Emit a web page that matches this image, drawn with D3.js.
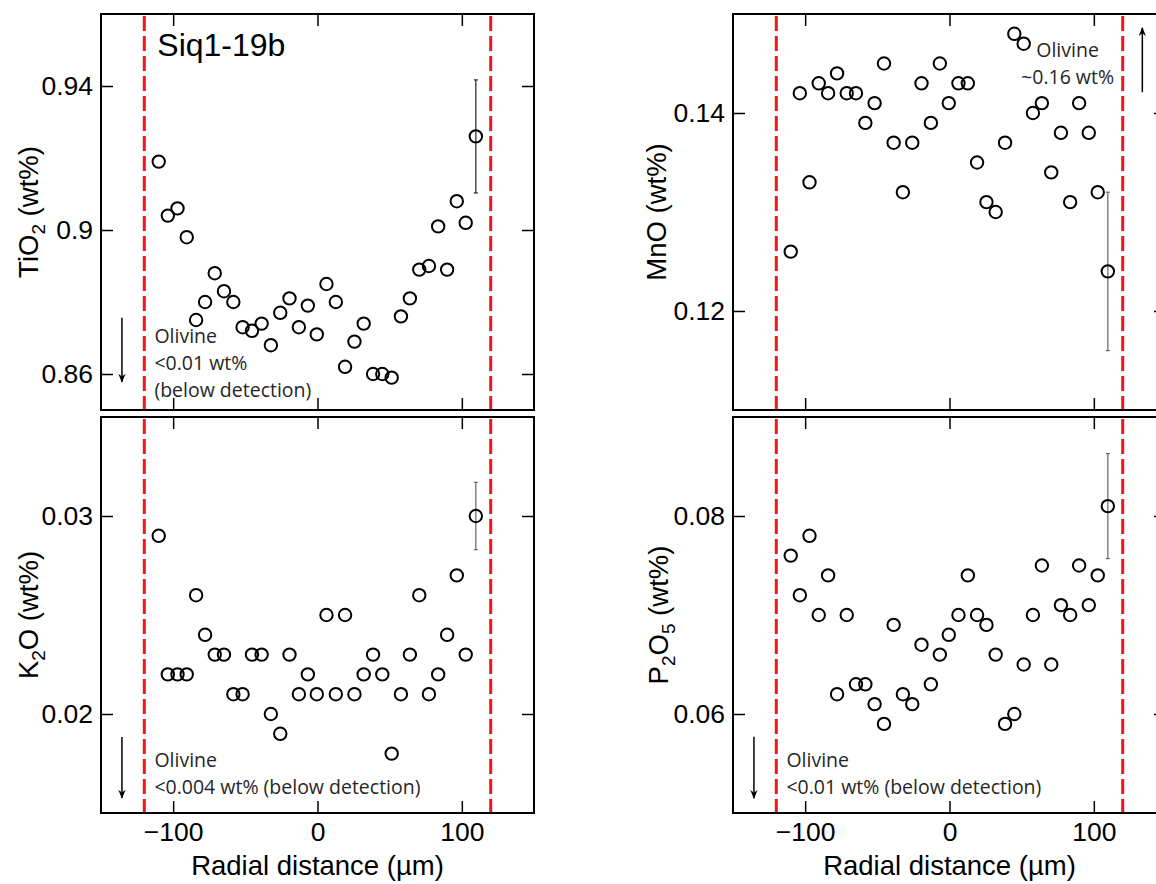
<!DOCTYPE html>
<html>
<head>
<meta charset="utf-8">
<script src="https://cdn.jsdelivr.net/npm/d3@7"></script>
<style>
  body { margin: 0; background: #fff; }
  text { font-family: "Liberation Sans", Arial, sans-serif; }
</style>
</head>
<body>
<svg id="chart"></svg>
<script>
// radial position of each analysis (µm), same spots for all four oxides
const radialDistance = [-110, -103.7, -97, -90.6, -84.1, -77.9, -71.2, -64.8, -58.3, -51.9,
  -45.4, -38.7, -32.3, -25.8, -19.4, -12.9, -6.7, -0.5, 6.2, 12.7,
  19.1, 25.6, 32, 38.5, 44.9, 51.4, 57.8, 64, 70.5, 77.2,
  83.6, 89.8, 96.5, 102.7, 109.7];

const tio2 = [0.919, 0.904, 0.906, 0.898, 0.875, 0.880, 0.888, 0.883, 0.880, 0.873,
  0.872, 0.874, 0.868, 0.877, 0.881, 0.873, 0.879, 0.871, 0.885, 0.880,
  0.862, 0.869, 0.874, 0.860, 0.860, 0.859, 0.876, 0.881, 0.889, 0.890,
  0.901, 0.889, 0.908, 0.902, 0.926];

const mno = [0.126, 0.142, 0.133, 0.143, 0.142, 0.144, 0.142, 0.142, 0.139, 0.141,
  0.145, 0.137, 0.132, 0.137, 0.143, 0.139, 0.145, 0.141, 0.143, 0.143,
  0.135, 0.131, 0.130, 0.137, 0.148, 0.147, 0.140, 0.141, 0.134, 0.138,
  0.131, 0.141, 0.138, 0.132, 0.124];

const k2o = [0.029, 0.022, 0.022, 0.022, 0.026, 0.024, 0.023, 0.023, 0.021, 0.021,
  0.023, 0.023, 0.020, 0.019, 0.023, 0.021, 0.022, 0.021, 0.025, 0.021,
  0.025, 0.021, 0.022, 0.023, 0.022, 0.018, 0.021, 0.023, 0.026, 0.021,
  0.022, 0.024, 0.027, 0.023, 0.030];

const p2o5 = [0.076, 0.072, 0.078, 0.070, 0.074, 0.062, 0.070, 0.063, 0.063, 0.061,
  0.059, 0.069, 0.062, 0.061, 0.067, 0.063, 0.066, 0.068, 0.070, 0.074,
  0.070, 0.069, 0.066, 0.059, 0.060, 0.065, 0.070, 0.075, 0.065, 0.071,
  0.070, 0.075, 0.071, 0.074, 0.081];

// one representative 2-sigma error bar, on the outermost point
const errTio2 = 0.0157;
const errMno = 0.008;
const errK2o = 0.0017;
const errP2o5 = 0.0053;

const olivineEdges = [-120, 120];
const xTicks = [-100, 0, 100];
const tio2Ticks = [0.86, 0.9, 0.94];
const mnoTicks = [0.12, 0.14];
const k2oTicks = [0.02, 0.03];
const p2o5Ticks = [0.06, 0.08];

const width = 1156;
const height = 884;
const panelW = 433;
const panelH = 396;
const colX = [101, 733];
const rowY = [14, 417];

const svg = d3.select('#chart')
  .attr('width', width)
  .attr('height', height);

const panels = [
  { col: 0, row: 0, values: tio2, err: errTio2, domain: [0.85, 0.96], ticks: tio2Ticks,
    label: [['TiO'], ['2', 'sub'], [' (wt%)']], labelOff: 63 },
  { col: 1, row: 0, values: mno, err: errMno, domain: [0.11, 0.15], ticks: mnoTicks,
    label: [['MnO (wt%)']], labelOff: 67 },
  { col: 0, row: 1, values: k2o, err: errK2o, domain: [0.015, 0.035], ticks: k2oTicks,
    label: [['K'], ['2', 'sub'], ['O (wt%)']], labelOff: 63 },
  { col: 1, row: 1, values: p2o5, err: errP2o5, domain: [0.05, 0.09], ticks: p2o5Ticks,
    label: [['P'], ['2', 'sub'], ['O'], ['5', 'sub'], [' (wt%)']], labelOff: 65 },
];

// olivine composition notes: [x, y] in data units of each panel
const notes = [
  { panel: 0, arrow: [-135.5, 0.8756, 0.8578], at: [-113, 0.8686], anchor: 'start',
    lines: ['Olivine', '<0.01 wt%', '(below detection)'] },
  { panel: 1, arrow: [133.6, 0.1421, 0.1486], at: [81.8, 0.1457], anchor: 'middle',
    lines: ['Olivine', '~0.16 wt%'] },
  { panel: 2, arrow: [-135.5, 0.01884, 0.01576], at: [-113, 0.01732], anchor: 'start',
    lines: ['Olivine', '<0.004 wt% (below detection)'] },
  { panel: 3, arrow: [-135.5, 0.0577, 0.0515], at: [-113, 0.05465], anchor: 'start',
    lines: ['Olivine', '<0.01 wt% (below detection)'] },
];

svg.append('defs').append('marker')
  .attr('id', 'head')
  .attr('viewBox', '0 0 10 10')
  .attr('refX', 9).attr('refY', 5)
  .attr('markerWidth', 9).attr('markerHeight', 9)
  .attr('markerUnits', 'userSpaceOnUse')
  .attr('orient', 'auto')
  .append('path')
  .attr('d', 'M0,1 L10,5 L0,9 L3,5 Z')
  .attr('fill', '#000');

const styleAxis = (g) => {
  g.select('.domain').remove();
  g.selectAll('.tick line').attr('stroke', '#000').attr('stroke-width', 1.5);
  g.selectAll('.tick text')
    .attr('fill', '#000')
    .style('font-family', '"Liberation Sans", Arial, sans-serif')
    .style('font-size', '26.5px');
};

panels.forEach((p, i) => {
  const x0 = colX[p.col];
  const y0 = rowY[p.row];
  const x = d3.scaleLinear().domain([-150, 150]).range([x0, x0 + panelW]);
  const y = d3.scaleLinear().domain(p.domain).range([y0 + panelH, y0]);
  p.x = x;
  p.y = y;

  const g = svg.append('g');

  // olivine / melt boundary
  g.selectAll('line.edge')
    .data(olivineEdges)
    .enter()
    .append('line')
    .attr('class', 'edge')
    .attr('x1', d => x(d)).attr('x2', d => x(d))
    .attr('y1', y0 + 2).attr('y2', y0 + panelH - 1)
    .attr('stroke', '#f5141a')
    .attr('stroke-width', 3)
    .attr('stroke-dasharray', '15,5');

  // axes, all ticks pointing inward
  g.append('g')
    .attr('transform', `translate(${x0},0)`)
    .call(d3.axisLeft(y).tickValues(p.ticks).tickSize(-12).tickPadding(8).tickFormat(d => d))
    .call(styleAxis);
  g.append('g')
    .attr('transform', `translate(${x0 + panelW},0)`)
    .call(d3.axisRight(y).tickValues(p.ticks).tickSize(-12).tickFormat(''))
    .call(styleAxis);
  g.append('g')
    .attr('transform', `translate(0,${y0})`)
    .call(d3.axisTop(x).tickValues(xTicks).tickSize(-12).tickFormat(''))
    .call(styleAxis);
  g.append('g')
    .attr('transform', `translate(0,${y0 + panelH})`)
    .call(d3.axisBottom(x).tickValues(xTicks).tickSize(-12).tickPadding(9)
      .tickFormat(p.row === 1 ? d3.format('d') : ''))
    .call(styleAxis);

  g.append('rect')
    .attr('x', x0).attr('y', y0)
    .attr('width', panelW).attr('height', panelH)
    .attr('fill', 'none')
    .attr('stroke', '#000')
    .attr('stroke-width', 2);

  // error bar on the last point
  const last = radialDistance.length - 1;
  const ex = x(radialDistance[last]);
  const eb = g.append('g').attr('stroke', i === 0 ? '#222' : '#666').attr('stroke-width', 1.2);
  eb.append('line')
    .attr('x1', ex).attr('x2', ex)
    .attr('y1', y(p.values[last] + p.err)).attr('y2', y(p.values[last] - p.err));
  [p.values[last] + p.err, p.values[last] - p.err].forEach(v => {
    eb.append('line')
      .attr('x1', ex - 2).attr('x2', ex + 2)
      .attr('y1', y(v)).attr('y2', y(v));
  });

  g.selectAll('circle')
    .data(radialDistance)
    .enter()
    .append('circle')
    .attr('cx', d => x(d))
    .attr('cy', (d, j) => y(p.values[j]))
    .attr('r', 6.2)
    .attr('fill', 'none')
    .attr('stroke', '#000')
    .attr('stroke-width', 2);

  // y label with subscripts
  const lab = svg.append('text')
    .attr('transform', `translate(${x0 - p.labelOff},${y0 + panelH / 2}) rotate(-90)`)
    .attr('text-anchor', 'middle')
    .attr('font-size', 27.5)
    .attr('fill', '#000');
  let shifted = false;
  p.label.forEach(([s, kind]) => {
    const t = lab.append('tspan').text(s);
    if (kind === 'sub') {
      t.attr('font-size', 19).attr('dy', shifted ? 0 : 7);
      shifted = true;
    } else if (shifted) {
      t.attr('dy', -7);
      shifted = false;
    }
  });

  if (p.row === 1) {
    svg.append('text')
      .attr('x', x0 + panelW / 2)
      .attr('y', 875)
      .attr('text-anchor', 'middle')
      .attr('font-size', 27.5)
      .attr('fill', '#000')
      .text('Radial distance (µm)');
  }
});

svg.append('text')
  .attr('x', panels[0].x(-111))
  .attr('y', 56)
  .attr('font-size', 32)
  .attr('fill', '#000')
  .text('Siq1-19b');

notes.forEach(n => {
  const p = panels[n.panel];
  svg.append('line')
    .attr('x1', p.x(n.arrow[0])).attr('x2', p.x(n.arrow[0]))
    .attr('y1', p.y(n.arrow[1])).attr('y2', p.y(n.arrow[2]))
    .attr('stroke', '#000')
    .attr('stroke-width', 1.5)
    .attr('marker-end', 'url(#head)');
  const t = svg.append('text')
    .attr('x', p.x(n.at[0]))
    .attr('y', p.y(n.at[1]))
    .attr('text-anchor', n.anchor)
    .attr('fill', '#262626')
    .style('font-family', '"Open Sans", "Noto Sans", sans-serif')
    .style('font-size', '19.5px');
  n.lines.forEach((s, k) => {
    t.append('tspan')
      .attr('x', p.x(n.at[0]))
      .attr('dy', k === 0 ? 0 : 27)
      .text(s);
  });
});
</script>
</body>
</html>
